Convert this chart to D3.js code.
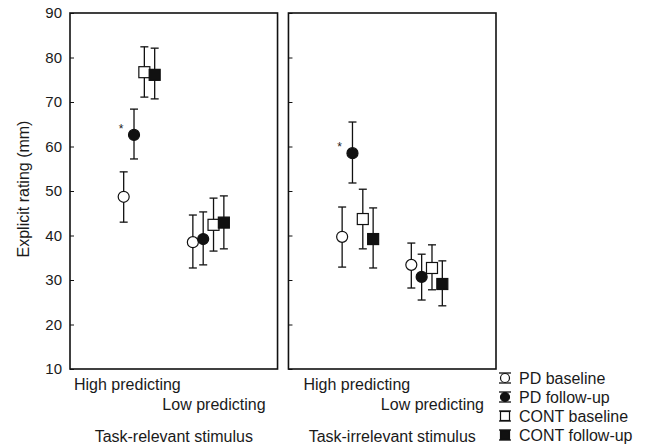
<!DOCTYPE html>
<html>
<head>
<meta charset="utf-8">
<script src="https://cdn.jsdelivr.net/npm/d3@7"></script>
<style>
  body { margin: 0; background: #fff; }
  text { font-family: "Liberation Sans", Arial, sans-serif; fill: #1a1a1a; }
</style>
</head>
<body>
<script>
const w = 646;
const h = 447;

const panels = ["Task-relevant stimulus", "Task-irrelevant stimulus"];
const categories = ["High predicting", "Low predicting"];
const series = ["PD baseline", "PD follow-up", "CONT baseline", "CONT follow-up"];
const yTicks = [10, 20, 30, 40, 50, 60, 70, 80, 90];

// means, lower and upper error limits: [panel][category][series]
const means = [
  [[48.7, 62.6, 76.7, 76.1], [38.5, 39.2, 42.4, 42.9]],
  [[39.7, 58.5, 43.7, 39.2], [33.4, 30.7, 32.7, 29.1]]
];
const lower = [
  [[43.0, 57.2, 71.1, 70.7], [32.7, 33.4, 36.5, 37.0]],
  [[32.9, 51.8, 37.0, 32.7], [28.2, 25.5, 27.8, 24.2]]
];
const upper = [
  [[54.3, 68.4, 82.4, 82.1], [44.6, 45.3, 48.4, 48.9]],
  [[46.4, 65.5, 50.4, 46.2], [38.3, 35.8, 37.9, 34.3]]
];
// significance markers: [panel, category, series]
const stars = [[0, 0, 1], [1, 0, 1]];

const svg = d3.select("body").append("svg").attr("width", w).attr("height", h);

const y = d3.scaleLinear().domain([10, 90]).range([369, 13]);
const panelX = d3.scaleBand().domain(panels).range([70, 496]).paddingInner(0.05);
const offset = d3.scalePoint().domain(series).range([-15.5, 15.5]);
// left inset of the "High predicting" label in each panel
const highInset = [4, 15];

const filled = (s) => s.includes("follow-up");
const square = (s) => s.startsWith("CONT");

function marker(g, s, cx, cy, size) {
  if (square(s)) {
    g.append("rect")
      .attr("x", cx - size).attr("y", cy - size)
      .attr("width", 2 * size).attr("height", 2 * size)
      .attr("fill", filled(s) ? "#111" : "#fff")
      .attr("stroke", "#111").attr("stroke-width", 1.2);
  } else {
    g.append("circle")
      .attr("cx", cx).attr("cy", cy).attr("r", size)
      .attr("fill", filled(s) ? "#111" : "#fff")
      .attr("stroke", "#111").attr("stroke-width", 1.2);
  }
}

function errorBar(g, cx, y1, y2, cap) {
  g.append("line").attr("x1", cx).attr("x2", cx).attr("y1", y1).attr("y2", y2)
    .attr("stroke", "#111").attr("stroke-width", 1.3);
  [y1, y2].forEach((yy) => {
    g.append("line").attr("x1", cx - cap).attr("x2", cx + cap).attr("y1", yy).attr("y2", yy)
      .attr("stroke", "#111").attr("stroke-width", 1.3);
  });
}

panels.forEach((p, pi) => {
  const x0 = panelX(p);
  const bw = panelX.bandwidth();
  const x = d3.scalePoint().domain(categories).range([x0, x0 + bw]).padding(1);
  const g = svg.append("g");

  g.append("rect")
    .attr("x", x0).attr("y", y(90))
    .attr("width", bw).attr("height", y(10) - y(90))
    .attr("fill", "none").attr("stroke", "#111").attr("stroke-width", 1.6);

  const axis = d3.axisRight(y).tickValues(yTicks).tickSize(4);
  const ag = g.append("g").attr("transform", `translate(${x0},0)`).call(axis);
  ag.select(".domain").remove();
  ag.selectAll(".tick line").attr("stroke", "#111");
  ag.selectAll(".tick text").remove();

  if (pi === 0) {
    g.selectAll(".ylab").data(yTicks).enter().append("text")
      .attr("x", x0 - 8).attr("y", (d) => y(d) + 5)
      .attr("text-anchor", "end").attr("font-size", 15)
      .text((d) => d);
  }

  categories.forEach((c, ci) => {
    series.forEach((s, si) => {
      const cx = x(c) + offset(s);
      errorBar(g, cx, y(upper[pi][ci][si]), y(lower[pi][ci][si]), 4);
      marker(g, s, cx, y(means[pi][ci][si]), 5.5);
    });
  });

  stars.filter((st) => st[0] === pi).forEach((st) => {
    const cx = x(categories[st[1]]) + offset(series[st[2]]);
    g.append("text")
      .attr("x", cx - 13).attr("y", y(means[pi][st[1]][st[2]]) - 2)
      .attr("text-anchor", "middle").attr("font-size", 12)
      .text("*");
  });

  g.append("text").attr("x", x0 + highInset[pi]).attr("y", 390)
    .attr("font-size", 16).text(categories[0]);
  g.append("text").attr("x", x0 + bw - 12).attr("y", 410)
    .attr("text-anchor", "end").attr("font-size", 16).text(categories[1]);
  g.append("text").attr("x", x0 + bw / 2).attr("y", 442)
    .attr("text-anchor", "middle").attr("font-size", 16).text(p);
});

svg.append("text")
  .attr("transform", `translate(29,189) rotate(-90)`)
  .attr("text-anchor", "middle").attr("font-size", 16)
  .text("Explicit rating (mm)");

const legend = svg.append("g");
series.forEach((s, i) => {
  const ly = 378 + i * 19;
  const lx = 505;
  errorBar(legend, lx, ly - 5, ly + 5, 6);
  marker(legend, s, lx, ly, 4.5);
  legend.append("text").attr("x", 519).attr("y", ly + 6)
    .attr("font-size", 16).text(s);
});
</script>
</body>
</html>
